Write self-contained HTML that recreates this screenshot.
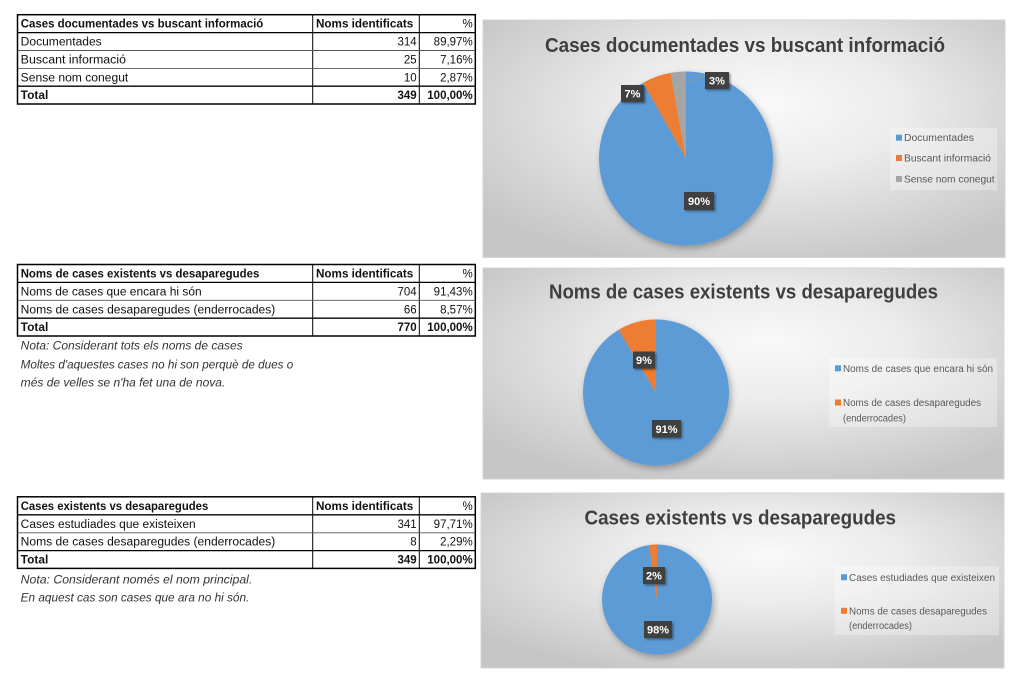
<!DOCTYPE html>
<html>
<head>
<meta charset="utf-8">
<style>
  html,body{margin:0;padding:0;background:#fff;}
  svg{display:block;}
  text{font-family:"Liberation Sans", sans-serif;}
</style>
</head>
<body>
<svg width="1024" height="684" viewBox="0 0 1024 684" xmlns="http://www.w3.org/2000/svg">
  <defs>
    <radialGradient id="bg" cx="0.52" cy="0.4" r="0.66" fx="0.55" fy="0.35">
      <stop offset="0" stop-color="#f9f9f9"/>
      <stop offset="0.4" stop-color="#ececec"/>
      <stop offset="1" stop-color="#c6c6c6"/>
    </radialGradient>
    <filter id="sh" x="-30%" y="-30%" width="160%" height="160%">
      <feDropShadow dx="2" dy="3" stdDeviation="3.5" flood-color="#000" flood-opacity="0.3"/>
    </filter>
    <filter id="lsh" x="-30%" y="-30%" width="160%" height="160%">
      <feDropShadow dx="1.5" dy="1.5" stdDeviation="1" flood-color="#000" flood-opacity="0.4"/>
    </filter>
  </defs>

  <!-- ================= TABLE 1 ================= -->
  <g font-size="11.5" fill="#111">
    <rect x="17.5" y="14.7" width="457.8" height="89.3" fill="none" stroke="#000" stroke-width="1.5"/>
    <line x1="312.7" y1="14.7" x2="312.7" y2="104" stroke="#000" stroke-width="1"/>
    <line x1="419.3" y1="14.7" x2="419.3" y2="104" stroke="#000" stroke-width="1"/>
    <line x1="17.5" y1="32.6" x2="475.3" y2="32.6" stroke="#000" stroke-width="1.3"/>
    <line x1="17.5" y1="50.5" x2="475.3" y2="50.5" stroke="#555" stroke-width="0.9"/>
    <line x1="17.5" y1="68.4" x2="475.3" y2="68.4" stroke="#555" stroke-width="0.9"/>
    <line x1="17.5" y1="86.2" x2="475.3" y2="86.2" stroke="#000" stroke-width="1.3"/>

    <text x="20.7" y="27.6" font-weight="bold" textLength="242.6" lengthAdjust="spacingAndGlyphs">Cases documentades vs buscant informació</text>
    <text x="316" y="27.6" font-weight="bold" textLength="97.3" lengthAdjust="spacingAndGlyphs">Noms identificats</text>
    <text x="472.7" y="27.6" text-anchor="end">%</text>

    <text x="20.7" y="45.5" textLength="81" lengthAdjust="spacingAndGlyphs">Documentades</text>
    <text x="416.7" y="45.5" text-anchor="end">314</text>
    <text x="472.7" y="45.5" text-anchor="end">89,97%</text>

    <text x="20.7" y="63.4" textLength="105.3" lengthAdjust="spacingAndGlyphs">Buscant informació</text>
    <text x="416.7" y="63.4" text-anchor="end">25</text>
    <text x="472.7" y="63.4" text-anchor="end">7,16%</text>

    <text x="20.7" y="81.3" textLength="107.6" lengthAdjust="spacingAndGlyphs">Sense nom conegut</text>
    <text x="416.7" y="81.3" text-anchor="end">10</text>
    <text x="472.7" y="81.3" text-anchor="end">2,87%</text>

    <text x="20.7" y="99.1" font-weight="bold" textLength="27.6" lengthAdjust="spacingAndGlyphs">Total</text>
    <text x="416.7" y="99.1" font-weight="bold" text-anchor="end">349</text>
    <text x="472.7" y="99.1" font-weight="bold" text-anchor="end">100,00%</text>
  </g>

  <!-- ================= TABLE 2 ================= -->
  <g font-size="11.5" fill="#111">
    <rect x="17.5" y="264.5" width="457.8" height="71.5" fill="none" stroke="#000" stroke-width="1.5"/>
    <line x1="312.7" y1="264.5" x2="312.7" y2="336" stroke="#000" stroke-width="1"/>
    <line x1="419.3" y1="264.5" x2="419.3" y2="336" stroke="#000" stroke-width="1"/>
    <line x1="17.5" y1="282.4" x2="475.3" y2="282.4" stroke="#000" stroke-width="1.3"/>
    <line x1="17.5" y1="300.3" x2="475.3" y2="300.3" stroke="#555" stroke-width="0.9"/>
    <line x1="17.5" y1="318.2" x2="475.3" y2="318.2" stroke="#000" stroke-width="1.3"/>

    <text x="20.7" y="277.5" font-weight="bold" textLength="238.6" lengthAdjust="spacingAndGlyphs">Noms de cases existents vs desaparegudes</text>
    <text x="316" y="277.5" font-weight="bold" textLength="97.3" lengthAdjust="spacingAndGlyphs">Noms identificats</text>
    <text x="472.7" y="277.5" text-anchor="end">%</text>

    <text x="20.7" y="295.4" textLength="181" lengthAdjust="spacingAndGlyphs">Noms de cases que encara hi són</text>
    <text x="416.7" y="295.4" text-anchor="end">704</text>
    <text x="472.7" y="295.4" text-anchor="end">91,43%</text>

    <text x="20.7" y="313.3" textLength="254.6" lengthAdjust="spacingAndGlyphs">Noms de cases desaparegudes (enderrocades)</text>
    <text x="416.7" y="313.3" text-anchor="end">66</text>
    <text x="472.7" y="313.3" text-anchor="end">8,57%</text>

    <text x="20.7" y="331.1" font-weight="bold" textLength="27.6" lengthAdjust="spacingAndGlyphs">Total</text>
    <text x="416.7" y="331.1" font-weight="bold" text-anchor="end">770</text>
    <text x="472.7" y="331.1" font-weight="bold" text-anchor="end">100,00%</text>
  </g>
  <g font-size="11.5" fill="#333" font-style="italic">
    <text x="20.7" y="349.7" textLength="222" lengthAdjust="spacingAndGlyphs">Nota: Considerant tots els noms de cases</text>
    <text x="20.7" y="368.3" textLength="272.6" lengthAdjust="spacingAndGlyphs">Moltes d'aquestes cases no hi son perquè de dues o</text>
    <text x="20.7" y="386.7" textLength="204.6" lengthAdjust="spacingAndGlyphs">més de velles se n'ha fet una de nova.</text>
  </g>

  <!-- ================= TABLE 3 ================= -->
  <g font-size="11.5" fill="#111">
    <rect x="17.5" y="496.8" width="457.8" height="71.6" fill="none" stroke="#000" stroke-width="1.5"/>
    <line x1="312.7" y1="496.8" x2="312.7" y2="568.4" stroke="#000" stroke-width="1"/>
    <line x1="419.3" y1="496.8" x2="419.3" y2="568.4" stroke="#000" stroke-width="1"/>
    <line x1="17.5" y1="514.8" x2="475.3" y2="514.8" stroke="#000" stroke-width="1.3"/>
    <line x1="17.5" y1="532.8" x2="475.3" y2="532.8" stroke="#555" stroke-width="0.9"/>
    <line x1="17.5" y1="550.6" x2="475.3" y2="550.6" stroke="#000" stroke-width="1.3"/>

    <text x="20.7" y="509.8" font-weight="bold" textLength="187.6" lengthAdjust="spacingAndGlyphs">Cases existents vs desaparegudes</text>
    <text x="316" y="509.8" font-weight="bold" textLength="97.3" lengthAdjust="spacingAndGlyphs">Noms identificats</text>
    <text x="472.7" y="509.8" text-anchor="end">%</text>

    <text x="20.7" y="527.8" textLength="175" lengthAdjust="spacingAndGlyphs">Cases estudiades que existeixen</text>
    <text x="416.7" y="527.8" text-anchor="end">341</text>
    <text x="472.7" y="527.8" text-anchor="end">97,71%</text>

    <text x="20.7" y="545.7" textLength="254.6" lengthAdjust="spacingAndGlyphs">Noms de cases desaparegudes (enderrocades)</text>
    <text x="416.7" y="545.7" text-anchor="end">8</text>
    <text x="472.7" y="545.7" text-anchor="end">2,29%</text>

    <text x="20.7" y="563.5" font-weight="bold" textLength="27.6" lengthAdjust="spacingAndGlyphs">Total</text>
    <text x="416.7" y="563.5" font-weight="bold" text-anchor="end">349</text>
    <text x="472.7" y="563.5" font-weight="bold" text-anchor="end">100,00%</text>
  </g>
  <g font-size="11.5" fill="#333" font-style="italic">
    <text x="20.7" y="583.3" textLength="231.6" lengthAdjust="spacingAndGlyphs">Nota: Considerant només el nom principal.</text>
    <text x="20.7" y="601.3" textLength="228.6" lengthAdjust="spacingAndGlyphs">En aquest cas son cases que ara no hi són.</text>
  </g>

  <!-- ================= CHART 1 ================= -->
  <rect x="483" y="20" width="522" height="237.5" fill="url(#bg)" stroke="#d4d4d4" stroke-width="1"/>
  <text x="545" y="52" font-size="20" font-weight="bold" fill="#3f3f3f" textLength="400" lengthAdjust="spacingAndGlyphs">Cases documentades vs buscant informació</text>
  <g filter="url(#sh)">
    <path d="M686,158.5 L686,71.5 A87,87 0 1 1 643.16,82.78 Z" fill="#5B9BD5"/>
    <path d="M686,158.5 L643.16,82.78 A87,87 0 0 1 670.44,72.9 Z" fill="#ED7D31"/>
    <path d="M686,158.5 L670.44,72.9 A87,87 0 0 1 686,71.5 Z" fill="#A5A5A5"/>
  </g>
  <line x1="687" y1="82" x2="705" y2="76" stroke="#9a9a9a" stroke-width="0.8"/>
  <g filter="url(#lsh)">
    <rect x="705" y="72" width="24" height="17" fill="#404040"/>
    <rect x="621" y="85" width="23" height="17" fill="#404040"/>
    <rect x="684" y="192" width="30" height="18" fill="#404040"/>
  </g>
  <g font-size="11" font-weight="bold" fill="#fff" text-anchor="middle">
    <text x="717" y="84.5">3%</text>
    <text x="632.5" y="97.5">7%</text>
    <text x="699" y="205">90%</text>
  </g>
  <rect x="890" y="128" width="107" height="62" fill="#ffffff" fill-opacity="0.3"/>
  <rect x="896" y="134.7" width="6" height="6" fill="#5B9BD5"/>
  <rect x="896" y="155" width="6" height="6" fill="#ED7D31"/>
  <rect x="896" y="176" width="6" height="6" fill="#A5A5A5"/>
  <g font-size="10" fill="#595959">
    <text x="904" y="141.2" textLength="70" lengthAdjust="spacingAndGlyphs">Documentades</text>
    <text x="904" y="161.5" textLength="87" lengthAdjust="spacingAndGlyphs">Buscant informació</text>
    <text x="904" y="182.5" textLength="90.6" lengthAdjust="spacingAndGlyphs">Sense nom conegut</text>
  </g>

  <!-- ================= CHART 2 ================= -->
  <rect x="483" y="268" width="521" height="211" fill="url(#bg)" stroke="#d4d4d4" stroke-width="1"/>
  <text x="549" y="298.5" font-size="20" font-weight="bold" fill="#3f3f3f" textLength="389" lengthAdjust="spacingAndGlyphs">Noms de cases existents vs desaparegudes</text>
  <g filter="url(#sh)">
    <path d="M656,392.5 L656,319.5 A73,73 0 1 1 618.57,329.83 Z" fill="#5B9BD5"/>
    <path d="M656,392.5 L618.57,329.83 A73,73 0 0 1 656,319.5 Z" fill="#ED7D31"/>
  </g>
  <g filter="url(#lsh)">
    <rect x="633" y="351.5" width="22" height="17" fill="#404040"/>
    <rect x="652" y="420" width="29" height="17.5" fill="#404040"/>
  </g>
  <g font-size="11" font-weight="bold" fill="#fff" text-anchor="middle">
    <text x="644" y="364">9%</text>
    <text x="666.5" y="433">91%</text>
  </g>
  <rect x="829" y="358" width="168" height="69" fill="#ffffff" fill-opacity="0.3"/>
  <rect x="835" y="365.3" width="6" height="6" fill="#5B9BD5"/>
  <rect x="835" y="399.5" width="6" height="6" fill="#ED7D31"/>
  <g font-size="10" fill="#595959">
    <text x="843" y="372" textLength="150" lengthAdjust="spacingAndGlyphs">Noms de cases que encara hi són</text>
    <text x="843" y="406" textLength="138" lengthAdjust="spacingAndGlyphs">Noms de cases desaparegudes</text>
    <text x="843" y="421.5" textLength="63" lengthAdjust="spacingAndGlyphs">(enderrocades)</text>
  </g>

  <!-- ================= CHART 3 ================= -->
  <rect x="481" y="493" width="523" height="175" fill="url(#bg)" stroke="#d4d4d4" stroke-width="1"/>
  <text x="584.5" y="524.5" font-size="20" font-weight="bold" fill="#3f3f3f" textLength="311.5" lengthAdjust="spacingAndGlyphs">Cases existents vs desaparegudes</text>
  <g filter="url(#sh)">
    <path d="M657,599.5 L657,544.5 A55,55 0 1 1 649.12,545.07 Z" fill="#5B9BD5"/>
    <path d="M657,599.5 L649.12,545.07 A55,55 0 0 1 657,544.5 Z" fill="#ED7D31"/>
  </g>
  <g filter="url(#lsh)">
    <rect x="643" y="567" width="22" height="17" fill="#404040"/>
    <rect x="644" y="621" width="28" height="17" fill="#404040"/>
  </g>
  <g font-size="11" font-weight="bold" fill="#fff" text-anchor="middle">
    <text x="654" y="579.5">2%</text>
    <text x="658" y="633.5">98%</text>
  </g>
  <rect x="835" y="566" width="164" height="69" fill="#ffffff" fill-opacity="0.3"/>
  <rect x="841" y="574.3" width="6" height="6" fill="#5B9BD5"/>
  <rect x="841" y="607.8" width="6" height="6" fill="#ED7D31"/>
  <g font-size="10" fill="#595959">
    <text x="849" y="581" textLength="146" lengthAdjust="spacingAndGlyphs">Cases estudiades que existeixen</text>
    <text x="849" y="614.5" textLength="138" lengthAdjust="spacingAndGlyphs">Noms de cases desaparegudes</text>
    <text x="849" y="629" textLength="63" lengthAdjust="spacingAndGlyphs">(enderrocades)</text>
  </g>
</svg>
</body>
</html>
